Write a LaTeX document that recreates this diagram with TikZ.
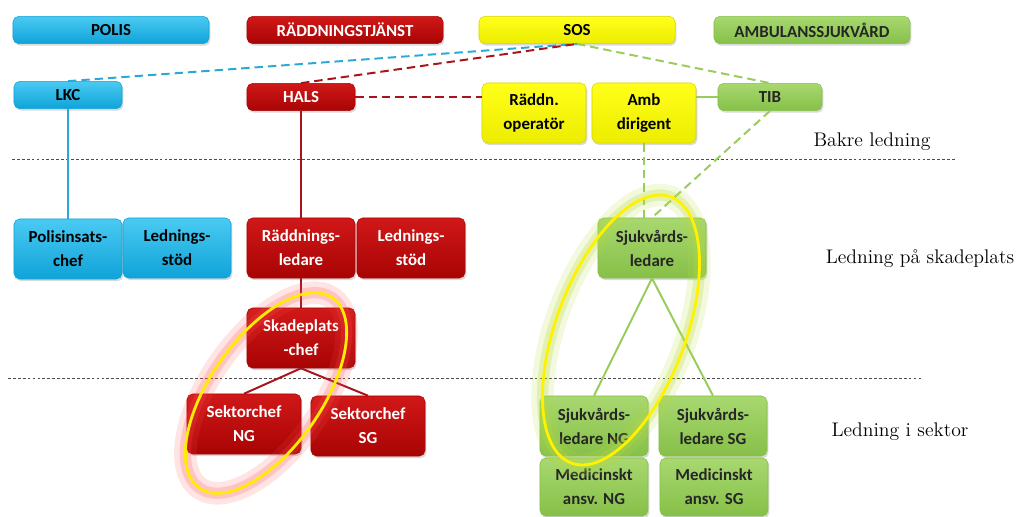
\documentclass[tikz,border=0pt]{standalone}
\usepackage{fontspec}
\newfontfamily\boxfont{Carlito}
\usetikzlibrary{shadows}

\definecolor{polisblue}{HTML}{1DBDF0}
\definecolor{polisdark}{HTML}{0FA3D8}
\definecolor{raddred}{HTML}{D01818}
\definecolor{radddark}{HTML}{A80404}
\definecolor{sosyellow}{HTML}{FFFF1A}
\definecolor{sosdark}{HTML}{EDED00}
\definecolor{ambgreen}{HTML}{A8D870}
\definecolor{ambdark}{HTML}{86C048}
\definecolor{bluelink}{HTML}{2AA8D8}
\definecolor{redlink}{HTML}{A8141C}
\definecolor{greenlink}{HTML}{98CC5C}

\tikzset{
  orgbox/.style={rounded corners=4pt, minimum width=2.7cm, minimum height=1.5cm,
    align=center, inner sep=1pt,
    font=\boxfont\bfseries\fontsize{12}{17}\selectfont,
    drop shadow={shadow xshift=1pt, shadow yshift=-1.5pt, opacity=.3}},
  banner/.style={orgbox, minimum width=4.9cm, minimum height=0.68cm},
  small/.style={orgbox, minimum height=0.68cm},
  polis/.style={top color=polisblue!80!white, bottom color=polisdark, draw=polisdark, text=black},
  radd/.style={top color=raddred, bottom color=radddark, draw=radddark, text=white},
  sos/.style={top color=sosyellow, bottom color=sosdark, draw=sosdark!90!black, text=black},
  amb/.style={top color=ambgreen, bottom color=ambdark, draw=ambdark, text=black!85},
  link/.style={line width=1.4pt},
  dlink/.style={line width=1.4pt, dash pattern=on 6pt off 3.5pt},
  level/.style={line width=0.5pt, black!70, dash pattern=on 2pt off 1.5pt},
  levellabel/.style={font=\fontsize{14}{16}\selectfont, anchor=center}
}

\begin{document}
\begin{tikzpicture}[x=0.025cm, y=-0.025cm]
  \useasboundingbox (0,0) rectangle (1025,517);

  % top row
  \node[banner, polis] (polis) at (111,30) {POLIS};
  \node[banner, radd] (rtj) at (345,30) {RÄDDNINGSTJÄNST};
  \node[banner, sos] (sos) at (577,30) {SOS};
  \node[banner, amb] (ambsjv) at (812,30) {AMBULANSSJUKVÅRD};

  % bakre ledning
  \node[small, polis] (lkc) at (68,95) {LKC};
  \node[small, radd] (hals) at (301,97) {HALS};
  \node[orgbox, sos, minimum width=2.6cm] (rop) at (534,113) {Räddn.\\operatör};
  \node[orgbox, sos, minimum width=2.6cm] (ambd) at (644,113) {Amb\\dirigent};
  \node[small, amb, minimum width=2.6cm] (tib) at (770,97) {TIB};

  % ledning på skadeplats
  \node[orgbox, polis] (pic) at (68,249) {Polisinsats-\\chef};
  \node[orgbox, polis] (pls) at (177,248) {Lednings-\\stöd};
  \node[orgbox, radd] (rl) at (301,248) {Räddnings-\\ledare};
  \node[orgbox, radd] (rls) at (411,248) {Lednings-\\stöd};
  \node[orgbox, radd] (skc) at (301,338) {Skadeplats\\-chef};
  \node[orgbox, amb] (sjl) at (652,248) {Sjukvårds-\\ledare};

  % ledning i sektor
  \node[orgbox, radd, minimum width=2.85cm] (sekng) at (244,424) {Sektorchef\\NG};
  \node[orgbox, radd, minimum width=2.85cm] (seksg) at (368,426) {Sektorchef\\SG};
  \node[orgbox, amb] (sjlng) at (594,426) {Sjukvårds-\\ledare NG};
  \node[orgbox, amb] (sjlsg) at (713,426) {Sjukvårds-\\ledare SG};
  \node[orgbox, amb, minimum height=1.45cm] (mang) at (594,487) {Medicinskt\\ansv. NG};
  \node[orgbox, amb, minimum height=1.45cm] (masg) at (714,487) {Medicinskt\\ansv. SG};

  % levels
  \draw[level] (12,159) -- (955,159);
  \draw[level] (8,378) -- (922,378);
  \node[levellabel] (bakre) at (872,142) {Bakre ledning};
  \node[levellabel] (skadeplats) at (920,259) {Ledning på skadeplats};
  \node[levellabel] (sektor) at (900,432) {Ledning i sektor};

  % connectors
  \draw[dlink, bluelink] (lkc.north) -- (sos.south);
  \draw[dlink, redlink] (hals.north) -- (sos.south);
  \draw[dlink, greenlink] (sos.south) -- (tib.north);
  \draw[dlink, redlink] (hals.east) -- (rop.west |- hals.east);
  \draw[link, greenlink] (ambd.east |- tib.west) -- (tib.west);
  \draw[link, bluelink] (lkc.south) -- (pic.north);
  \draw[link, redlink] (hals.south) -- (rl.north);
  \draw[link, redlink] (rl.south) -- (skc.north);
  \draw[link, redlink] (skc.south) -- (sekng.north);
  \draw[link, redlink] (skc.south) -- (seksg.north);
  \draw[dlink, greenlink] (ambd.south) -- (ambd.south |- sjl.north);
  \draw[dlink, greenlink] (tib.south) -- (sjl.north);
  \draw[link, greenlink] (sjl.south) -- (sjlng.north);
  \draw[link, greenlink] (sjl.south) -- (sjlsg.north);

  % highlighted groups
  \draw[shift={(266,393)}, rotate=55, red!60!pink, opacity=.15, line width=16pt] (0,0) ellipse [x radius=2.9cm, y radius=1.39cm];
  \draw[shift={(266,393)}, rotate=55, red!60!pink, opacity=.22, line width=8pt] (0,0) ellipse [x radius=2.9cm, y radius=1.39cm];
  \draw[shift={(266,393)}, rotate=55, yellow!95!orange, line width=2pt] (0,0) ellipse [x radius=2.9cm, y radius=1.39cm];
  \draw[shift={(621,330)}, rotate=69.5, greenlink!70!yellow, opacity=.18, line width=16pt] (0,0) ellipse [x radius=3.55cm, y radius=1.62cm];
  \draw[shift={(621,330)}, rotate=69.5, greenlink!70!yellow, opacity=.28, line width=8pt] (0,0) ellipse [x radius=3.55cm, y radius=1.62cm];
  \draw[shift={(621,330)}, rotate=69.5, yellow, line width=2pt] (0,0) ellipse [x radius=3.55cm, y radius=1.62cm];
\end{tikzpicture}
\end{document}
